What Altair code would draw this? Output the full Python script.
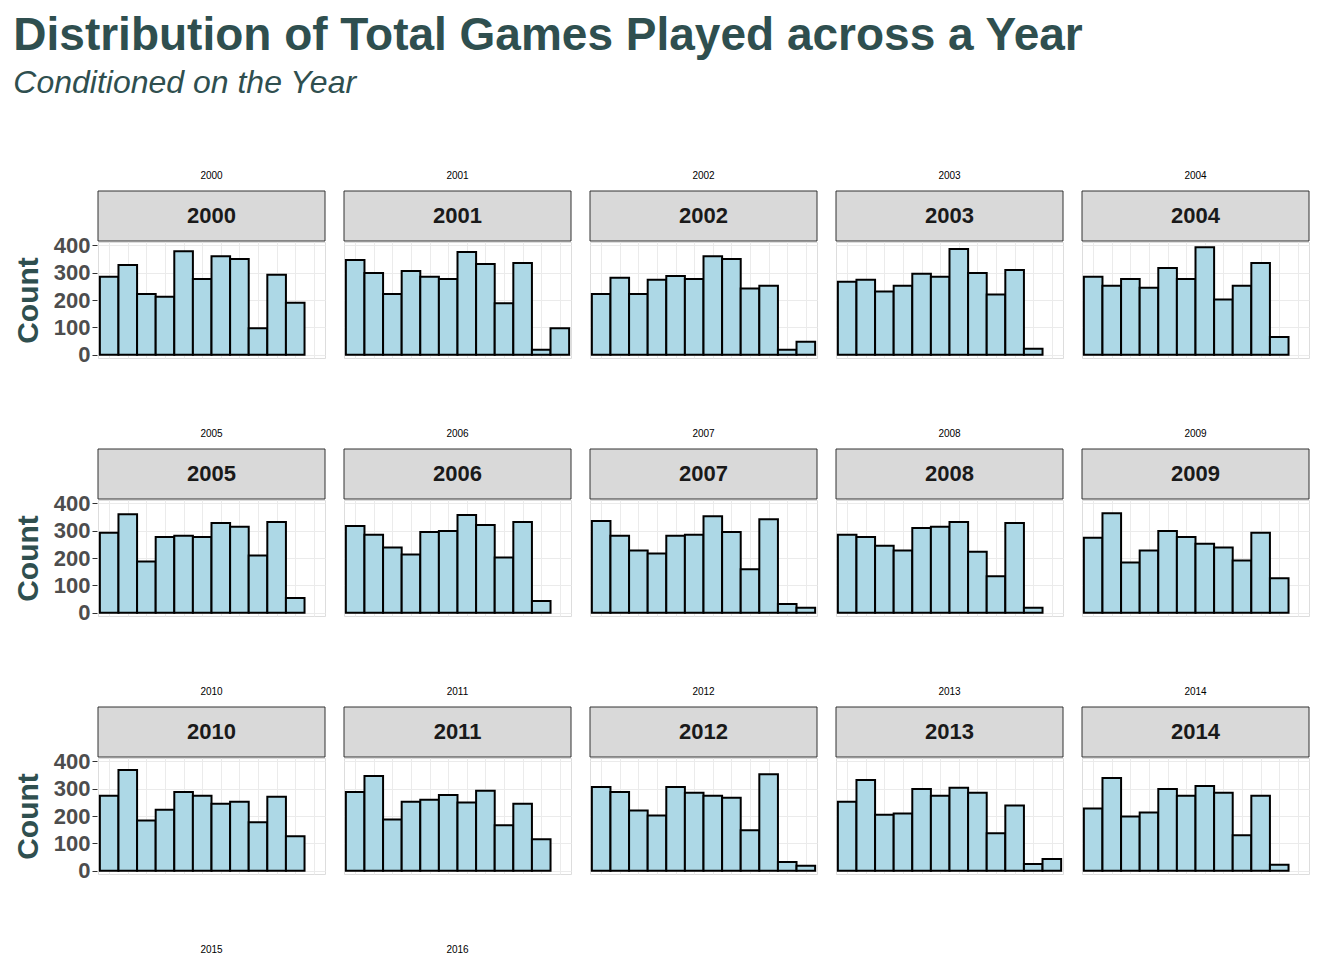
import altair as alt
import pandas as pd

months = list(range(1, 13))

# monthly game counts per season
counts = {
    2000: [285, 328, 222, 212, 378, 277, 360, 350, 97, 292, 190, 0],
    2001: [346, 299, 222, 306, 285, 277, 375, 332, 188, 335, 18, 97],
    2002: [222, 281, 222, 274, 288, 277, 360, 350, 242, 252, 18, 47],
    2003: [267, 274, 231, 252, 296, 285, 386, 299, 220, 310, 22, 0],
    2004: [285, 252, 277, 245, 317, 277, 393, 202, 252, 335, 65, 0],
    2005: [292, 360, 187, 277, 281, 277, 328, 314, 209, 332, 54, 0],
    2006: [317, 285, 238, 213, 295, 299, 357, 321, 202, 332, 43, 0],
    2007: [335, 281, 227, 216, 281, 285, 353, 295, 159, 342, 32, 18],
    2008: [285, 277, 245, 227, 310, 314, 332, 223, 133, 328, 18, 0],
    2009: [274, 364, 184, 227, 299, 277, 252, 238, 191, 292, 126, 0],
    2010: [274, 368, 184, 223, 288, 274, 245, 252, 177, 270, 126, 0],
    2011: [288, 346, 187, 252, 259, 277, 249, 292, 166, 245, 115, 0],
    2012: [306, 288, 220, 202, 306, 285, 274, 267, 148, 353, 32, 18],
    2013: [252, 332, 205, 209, 299, 274, 303, 285, 137, 238, 25, 43],
    2014: [227, 339, 198, 213, 299, 274, 310, 285, 130, 274, 22, 0],
    2015: [263, 342, 187, 252, 299, 238, 249, 274, 184, 281, 65, 0],
    2016: [263, 342, 187, 263, 285, 263, 310, 234, 101, 0, 0, 0],
}

rows = []
for year, vals in counts.items():
    for m, c in zip(months, vals):
        rows.append({"year": str(year), "month": m, "lo": m - 0.5, "hi": m + 0.5, "count": c})
df = pd.DataFrame(rows)

W, H = 227, 116
FONT = "Liberation Sans"

x_axis = alt.Axis(values=months, format="d", labelFontSize=22, labelFontWeight="bold",
                  labelColor="#4D4D4D", titleFontSize=30, titleColor="#2F4F4F",
                  titleFontWeight="bold", titlePadding=10, gridColor="#EBEBEB",
                  tickColor="#333333", domain=False, labelOverlap=False, labelPadding=4)
y_axis = alt.Axis(values=[0, 100, 200, 300, 400], labelFontSize=22, labelFontWeight="bold",
                  labelColor="#4D4D4D", titleFontSize=30, titleColor="#2F4F4F",
                  titleFontWeight="bold", titlePadding=10, gridColor="#EBEBEB",
                  tickColor="#333333", domain=False, labelBaseline="middle")

bars = alt.Chart().mark_rect(fill="#ADD8E6", stroke="black", strokeWidth=2).encode(
    x=alt.X("lo:Q", title="Month",
            scale=alt.Scale(domain=[0.4, 12.6], nice=False, zero=False), axis=x_axis),
    x2="hi:Q",
    y=alt.Y("count:Q", title="Count",
            scale=alt.Scale(domain=[-12, 412], nice=False), axis=y_axis),
    y2=alt.datum(0),
).transform_filter("datum.count > 0")

strip = alt.Chart().mark_rect(fill="#D9D9D9", stroke="#333333", strokeWidth=1).encode(
    x=alt.value(0), x2=alt.value(W), y=alt.value(-51), y2=alt.value(-1)
).transform_filter("datum.month == 1")

strip_text = alt.Chart().mark_text(fontSize=22, fontWeight="bold", font=FONT, color="#1A1A1A").encode(
    x=alt.value(W / 2), y=alt.value(-26), text="year:N"
).transform_filter("datum.month == 1")

chart = alt.layer(bars, strip, strip_text, data=df).properties(
    width=W, height=H
).facet(
    facet=alt.Facet("year:N", header=alt.Header(labels=False, title=None)),
    columns=5,
    spacing={"row": 69, "column": 17},
).properties(
    title=alt.TitleParams(
        "Distribution of Total Games Played across a Year",
        subtitle="Conditioned on the Year",
        anchor="start", fontSize=46, fontWeight="bold", color="#2F4F4F", font=FONT,
        subtitleFontSize=32, subtitleFontStyle="italic", subtitleColor="#2F4F4F",
        subtitleFont=FONT, subtitlePadding=8, offset=70,
    )
).configure_view(stroke="#333333", strokeWidth=1).configure(font=FONT).configure_axis(
    labelFont=FONT, titleFont=FONT
)

chart.save("out.html", embed_options={"renderer": "svg", "actions": False})
